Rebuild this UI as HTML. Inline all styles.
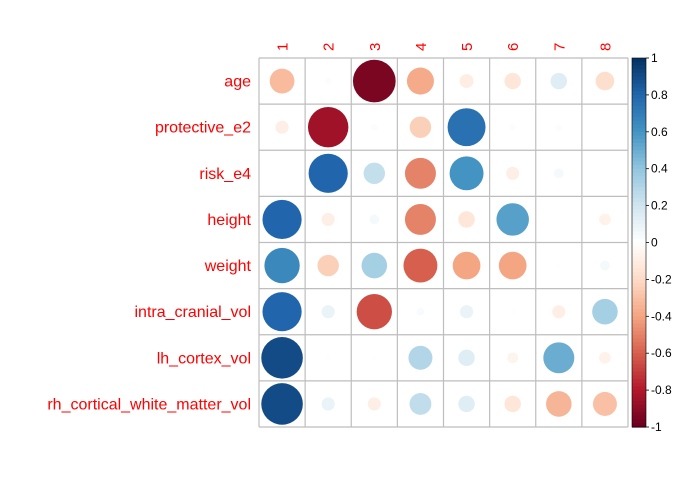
<!DOCTYPE html>
<html><head><meta charset="utf-8"><style>
html,body{margin:0;padding:0;background:#fff;}
svg{display:block;font-family:"Liberation Sans",Arial,sans-serif;}
</style></head><body>
<svg id="chart" width="682" height="485" viewBox="0 0 682 485"></svg>
<script>
const rowLabels=["age","protective_e2","risk_e4","height","weight","intra_cranial_vol","lh_cortex_vol","rh_cortical_white_matter_vol"];
const colLabels=["1","2","3","4","5","6","7","8"];
const row1=[-0.32,0.02,-0.95,-0.38,-0.1,-0.14,0.14,-0.18];
const row2=[-0.09,-0.85,0.02,-0.24,0.75,0.02,0.02,0];
const row3=[0,0.8,0.24,-0.5,0.6,-0.09,0.05,0];
const row4=[0.8,-0.09,0.05,-0.5,-0.14,0.55,0,-0.07];
const row5=[0.65,-0.24,0.34,-0.6,-0.4,-0.4,0.01,0.05];
const row6=[0.8,0.09,-0.65,0.03,0.09,0.01,-0.09,0.34];
const row7=[0.9,0.01,0.01,0.3,0.14,-0.06,0.5,-0.07];
const row8=[0.9,0.09,-0.09,0.25,0.14,-0.14,-0.34,-0.3];
const values=[row1,row2,row3,row4,row5,row6,row7,row8];
const barTicks=["1","0.8","0.6","0.4","0.2","0","-0.2","-0.4","-0.6","-0.8","-1"];
const barTickVals=[1,0.8,0.6,0.4,0.2,0,-0.2,-0.4,-0.6,-0.8,-1];

const NS="http://www.w3.org/2000/svg";
const svg=document.getElementById('chart');
const L=259,T=58,R=628,B=427;
const cw=(R-L)/colLabels.length, ch=(B-T)/rowLabels.length;
const stops=[[103,0,31],[178,24,43],[214,96,77],[244,165,130],[253,219,199],[255,255,255],[209,229,240],[146,197,222],[67,147,195],[33,102,172],[5,48,97]];
function color(v){let t=(Math.max(-1,Math.min(1,v))+1)/2*10;let i=Math.min(9,Math.floor(t));let f=t-i;const a=stops[i],b=stops[i+1];return 'rgb('+a.map((c,k)=>Math.round(c+(b[k]-c)*f)).join(',')+')';}
function xc(j){return L+cw*(j+0.5);}
function yc(i){return T+ch*(i+0.5);}
function el(tag,attrs){const e=document.createElementNS(NS,tag);for(const k in attrs)e.setAttribute(k,attrs[k]);svg.appendChild(e);return e;}

values.forEach((row,i)=>row.forEach((v,j)=>{
  if(Math.abs(v)<0.001)return;
  const c=el('circle',{cx:xc(j),cy:yc(i),r:Math.sqrt(Math.abs(v))*cw/2*0.95,fill:color(v)});
  
  
}));
for(let k=0;k<=colLabels.length;k++){
  const l=el('line',{x1:L+cw*k,y1:T,x2:L+cw*k,y2:B,stroke:'#bebebe','stroke-width':1.2});
  
  
}
for(let k=0;k<=rowLabels.length;k++){
  const l=el('line',{x1:L,y1:T+ch*k,x2:R,y2:T+ch*k,stroke:'#bebebe','stroke-width':1.2});
  
  
}
rowLabels.forEach((s,i)=>{
  const t=el('text',{x:251,y:yc(i)+5.5,'text-anchor':'end','font-size':16,fill:'#ff0000'});t.textContent=s;
  
  
});
colLabels.forEach((s,j)=>{
  const t=el('text',{transform:'translate('+(xc(j)+5.5)+',51) rotate(-90)','font-size':15,fill:'#ff0000'});t.textContent=s;
  
  
});
const bx=632,bw=14;
for(let k=0;k<100;k++){
  const v=1-2*(k+0.5)/100;
  const r=el('rect',{x:bx,y:T+(B-T)*k/100,width:bw,height:(B-T)/100+0.6,fill:color(v)});
  
  
}
const fr=el('rect',{x:bx,y:T,width:bw,height:B-T,fill:'none',stroke:'#000','stroke-width':0.6});


barTicks.forEach((s,k)=>{
  const y=T+(1-barTickVals[k])/2*(B-T);
  const ln=el('line',{x1:bx+bw,y1:y,x2:bx+bw+3,y2:y,stroke:'#000','stroke-width':0.8});
  
  
  const t=el('text',{x:651,y:y+4,'font-size':12,fill:'#000'});t.textContent=s;
  
  
});
</script>
</body></html>
